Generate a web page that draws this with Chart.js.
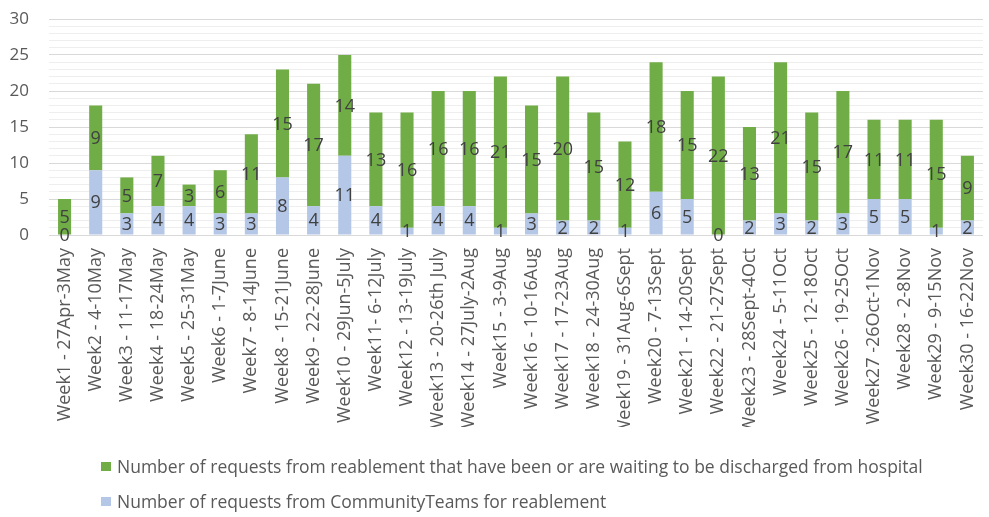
<!DOCTYPE html>
<html>
<head>
<meta charset="utf-8">
<script src="https://cdn.jsdelivr.net/npm/chart.js@4/dist/chart.umd.min.js"></script>
<style>
  html, body { margin: 0; padding: 0; background: #ffffff; }
  #wrap { position: relative; width: 989px; height: 517px; overflow: hidden; }
  #legend { position: absolute; left: 101px; top: 452px; font-family: "Open Sans", sans-serif; font-size: 17.5px; color: #595959; }
  .item { display: flex; align-items: center; height: 28px; margin-bottom: 7px; white-space: nowrap; }
  .sw { width: 10px; height: 9px; margin-right: 6px; flex: none; }
</style>
</head>
<body>
<div id="wrap">
  <canvas id="c" width="989" height="517"></canvas>
  <div id="legend"></div>
</div>
<script>
const categories = [
  "Week1 - 27Apr-3May", "Week2 - 4-10May", "Week3 - 11-17May", "Week4 - 18-24May",
  "Week5 - 25-31May", "Week6 - 1-7June", "Week7 - 8-14June", "Week8 - 15-21June",
  "Week9 - 22-28June", "Week10 - 29Jun-5July", "Week11- 6-12July", "Week12 - 13-19July",
  "Week13 - 20-26th July", "Week14 - 27July-2Aug", "Week15 - 3-9Aug", "Week16 - 10-16Aug",
  "Week17 - 17-23Aug", "Week18 - 24-30Aug", "Week19 - 31Aug-6Sept", "Week20 - 7-13Sept",
  "Week21 - 14-20Sept", "Week22 - 21-27Sept", "Week23 - 28Sept-4Oct", "Week24 - 5-11Oct",
  "Week25 - 12-18Oct", "Week26 - 19-25Oct", "Week27 -26Oct-1Nov", "Week28 - 2-8Nov",
  "Week29 - 9-15Nov", "Week30 - 16-22Nov"
];
const communityTeams = [0, 9, 3, 4, 4, 3, 3, 8, 4, 11, 4, 1, 4, 4, 1, 3, 2, 2, 1, 6, 5, 0, 2, 3, 2, 3, 5, 5, 1, 2];
const hospitalDischarge = [5, 9, 5, 7, 3, 6, 11, 15, 17, 14, 13, 16, 16, 16, 21, 15, 20, 15, 12, 18, 15, 22, 13, 21, 15, 17, 11, 11, 15, 9];
const yTickLabels = [0, 5, 10, 15, 20, 25, 30];

const seriesNames = {
  hospital: "Number of requests from reablement that have been or are waiting to be discharged from hospital",
  community: "Number of requests from CommunityTeams for reablement"
};
const colors = { hospital: "#70ad47", community: "#b4c7e7" };

const FONT = '"Open Sans", sans-serif';

const valueLabels = {
  id: 'valueLabels',
  afterDatasetsDraw(chart) {
    const ctx = chart.ctx;
    ctx.save();
    ctx.font = '18px ' + FONT;
    ctx.fillStyle = '#404040';
    ctx.textAlign = 'center';
    ctx.textBaseline = 'middle';
    chart.data.datasets.forEach((ds, i) => {
      const meta = chart.getDatasetMeta(i);
      meta.data.forEach((el, j) => {
        const v = ds.data[j];
        const y = (el.y + el.base) / 2 + 1;
        ctx.fillText(String(v), el.x, y);
      });
    });
    ctx.restore();
  }
};

const chart = new Chart(document.getElementById('c'), {
  type: 'bar',
  data: {
    labels: categories,
    datasets: [
      { label: seriesNames.community, data: communityTeams, backgroundColor: colors.community, stack: 's', barPercentage: 0.42, categoryPercentage: 1 },
      { label: seriesNames.hospital, data: hospitalDischarge, backgroundColor: colors.hospital, stack: 's', barPercentage: 0.42, categoryPercentage: 1 }
    ]
  },
  options: {
    responsive: false,
    animation: false,
    layout: { padding: { left: 9, right: -3, top: 0, bottom: 90 } },
    plugins: { legend: { display: false }, tooltip: { enabled: false } },
    scales: {
      x: {
        stacked: true,
        grid: { display: false, drawTicks: true, tickLength: 13 },
        border: { color: '#d9d9d9', width: 1 },
        ticks: { color: '#595959', font: { family: FONT, size: 18 }, minRotation: 90, maxRotation: 90, autoSkip: false, padding: 0 },
        afterFit: (s) => { s.height = 192; }
      },
      y: {
        stacked: true,
        min: 0, max: 30,
        grid: {
          drawTicks: false,
          color: (c) => (c.tick && yTickLabels.includes(c.tick.value)) ? '#d9d9d9' : '#eeeeee'
        },
        border: { display: false },
        ticks: {
          stepSize: 1,
          autoSkip: false,
          padding: 20,
          color: '#595959',
          font: { family: FONT, size: 17 },
          callback: (v) => yTickLabels.includes(v) ? String(v) : ''
        },
        afterFit: (s) => { s.width = 40; s.paddingTop = 19; s.paddingBottom = 0; }
      }
    }
  },
  plugins: [valueLabels]
});

const legendEl = document.getElementById('legend');
[['hospital', seriesNames.hospital], ['community', seriesNames.community]].forEach(([k, t]) => {
  const row = document.createElement('div');
  row.className = 'item';
  const sw = document.createElement('span');
  sw.className = 'sw';
  sw.style.background = colors[k];
  const tx = document.createElement('span');
  tx.textContent = t;
  row.appendChild(sw); row.appendChild(tx);
  legendEl.appendChild(row);
});
</script>
</body>
</html>
